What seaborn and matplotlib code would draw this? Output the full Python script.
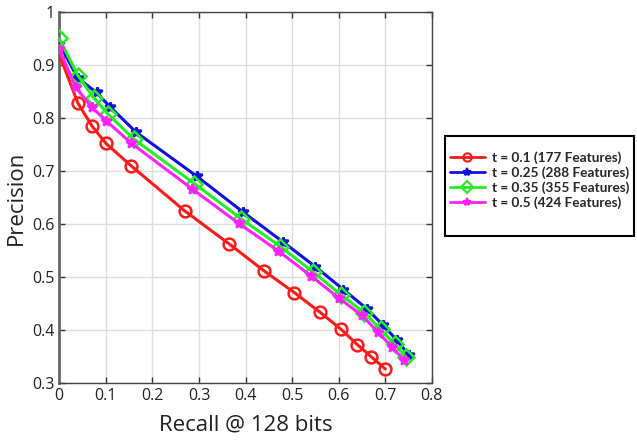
import matplotlib
matplotlib.use("Agg")
import matplotlib.pyplot as plt
from matplotlib.lines import Line2D
from matplotlib.patches import Rectangle
import seaborn as sns
import pandas as pd

labels = ["t = 0.1 (177 Features)", "t = 0.25 (288 Features)",
          "t = 0.35 (355 Features)", "t = 0.5 (424 Features)"]

recall_01 = [0.0, 0.04, 0.07, 0.10, 0.155, 0.27, 0.365, 0.44, 0.505, 0.56, 0.605, 0.64, 0.67, 0.70]
prec_01 = [0.92, 0.828, 0.785, 0.752, 0.709, 0.624, 0.562, 0.511, 0.470, 0.433, 0.401, 0.372, 0.349, 0.326]

recall_025 = [0.0, 0.04, 0.08, 0.11, 0.165, 0.295, 0.395, 0.48, 0.55, 0.61, 0.66, 0.695, 0.725, 0.75]
prec_025 = [0.94, 0.875, 0.848, 0.820, 0.773, 0.690, 0.622, 0.566, 0.519, 0.476, 0.440, 0.409, 0.380, 0.353]

recall_035 = [0.0, 0.04, 0.075, 0.105, 0.16, 0.29, 0.39, 0.475, 0.545, 0.605, 0.655, 0.69, 0.72, 0.745]
prec_035 = [0.95, 0.880, 0.837, 0.807, 0.760, 0.676, 0.610, 0.557, 0.509, 0.466, 0.432, 0.401, 0.373, 0.348]

recall_05 = [0.0, 0.035, 0.07, 0.10, 0.155, 0.285, 0.385, 0.47, 0.54, 0.60, 0.65, 0.685, 0.715, 0.74]
prec_05 = [0.93, 0.858, 0.820, 0.795, 0.752, 0.666, 0.601, 0.549, 0.502, 0.460, 0.427, 0.395, 0.367, 0.343]

series = [(recall_01, prec_01), (recall_025, prec_025), (recall_035, prec_035), (recall_05, prec_05)]
colors = ["#ff1a1a", "#1010e0", "#22ee22", "#ff22ff"]
markers = ["o", "*", "D", "*"]
msizes = [8.5, 7, 8.5, 7]
mfc = ["none", "#1010e0", "none", "#ff22ff"]

frames = []
for lab, (r, p) in zip(labels, series):
    frames.append(pd.DataFrame({"Recall": r, "Precision": p, "series": lab}))
df = pd.concat(frames, ignore_index=True)

sns.set_theme(style="white")
plt.rcParams['font.family'] = ['Open Sans', 'DejaVu Sans']

fig = plt.figure(figsize=(6.37, 4.42), dpi=100)
ax = fig.add_axes([0.093, 0.134, 0.585, 0.839])

draw_order = [0, 1, 3, 2]
for i in draw_order:
    sub = df[df["series"] == labels[i]]
    sns.lineplot(data=sub, x="Recall", y="Precision", ax=ax, color=colors[i],
                 marker=markers[i], markersize=msizes[i], linewidth=2.2,
                 markerfacecolor=mfc[i], markeredgecolor=colors[i],
                 markeredgewidth=1.8, estimator=None, sort=False,
                 legend=False, zorder=3 + i)

ax.set_xlim(0, 0.8)
ax.set_ylim(0.3, 1.0)
ax.set_xticks([0, 0.1, 0.2, 0.3, 0.4, 0.5, 0.6, 0.7, 0.8])
ax.set_xticklabels(["0", "0.1", "0.2", "0.3", "0.4", "0.5", "0.6", "0.7", "0.8"])
ax.set_yticks([0.3, 0.4, 0.5, 0.6, 0.7, 0.8, 0.9, 1.0])
ax.set_yticklabels(["0.3", "0.4", "0.5", "0.6", "0.7", "0.8", "0.9", "1"])
ax.grid(True, color="#dddddd", linewidth=1.0)
ax.tick_params(direction="in", length=4, width=1, colors="#333333", labelsize=11.5,
               top=True, right=True, bottom=True, left=True, labelcolor="#222222")
for s in ax.spines.values():
    s.set_color("#444444")
    s.set_linewidth(1.0)
ax.spines["left"].set_linewidth(2.0)
ax.spines["left"].set_color("#666666")

ax.set_xlabel("Recall @ 128 bits", fontsize=16, color="#222222", labelpad=8)
ax.set_ylabel("Precision", fontsize=16, color="#222222", labelpad=4)

# legend frame
fig.patches.append(Rectangle((445 / 637, 1 - 236 / 442), 189 / 637, 100 / 442,
                             transform=fig.transFigure, facecolor="white",
                             edgecolor="black", linewidth=1.5, zorder=1))

handles = [Line2D([0], [0], color=colors[i], marker=markers[i], markersize=6,
                  markerfacecolor=mfc[i], markeredgecolor=colors[i],
                  markeredgewidth=1.5, linewidth=2) for i in range(4)]
leg = fig.legend(handles, labels,
                 loc="center left", bbox_to_anchor=(450 / 637, 1 - 180 / 442),
                 prop={"family": ["Lato", "DejaVu Sans"], "weight": "bold", "size": 9.8},
                 frameon=False, borderpad=0, handlelength=2.55,
                 labelspacing=0.17, handletextpad=0.55, borderaxespad=0)
leg.set_zorder(5)

fig.savefig("out.png", dpi=100)
